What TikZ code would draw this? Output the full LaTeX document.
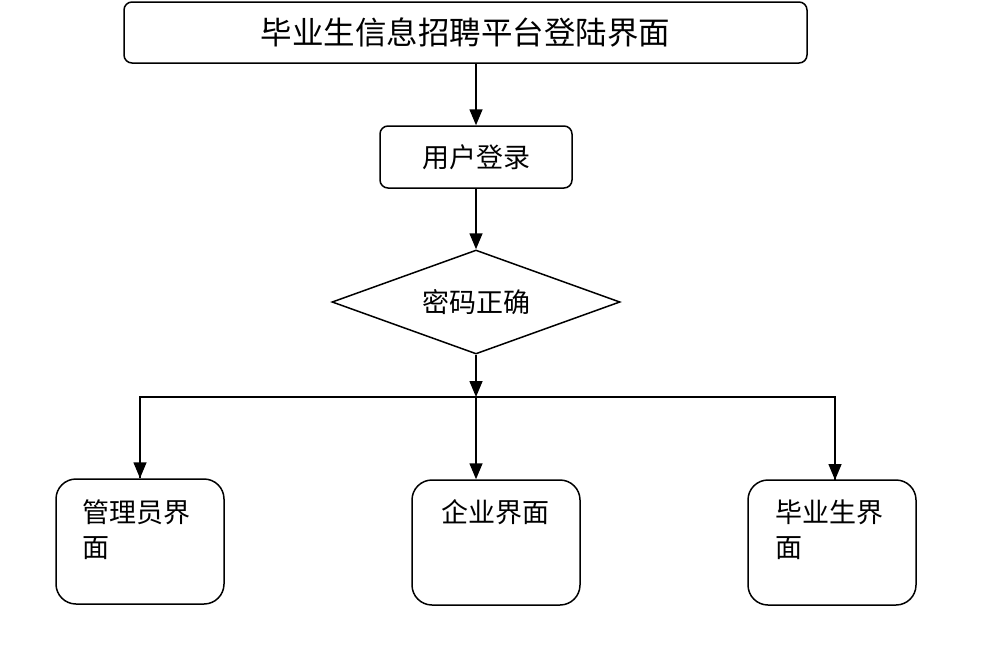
\documentclass[tikz,border=0pt]{standalone}
\usepackage{fontspec}
\newfontfamily\cjk{Noto Sans CJK SC}
\usetikzlibrary{arrows.meta,shapes.geometric,positioning}
\tikzset{
  stepbox/.style={draw, line width=1.5pt, rounded corners=8pt, inner sep=0pt},
  pagebox/.style={draw, line width=1.5pt, rounded corners=20pt, inner sep=0pt,
    minimum width=168pt, minimum height=125pt},
  checkbox/.style={draw, diamond, aspect=2.77, line width=1.5pt, inner sep=0pt,
    minimum width=288pt, minimum height=104pt},
  cjktext/.style={font=\cjk\fontsize{27}{35}\selectfont, inner sep=0pt}
}
\begin{document}
\begin{tikzpicture}[x=1pt,y=-1pt, line width=1.5pt,
    >={Triangle[width=13pt,length=16pt]}]
  \useasboundingbox (0,0) rectangle (981,667);
  % boxes
  \node[stepbox, minimum width=683pt, minimum height=61pt,
    font=\cjk\fontsize{31.5}{36}\selectfont] (title) at (465.5,32.5) {毕业生信息招聘平台登陆界面};
  \node[stepbox, minimum width=192pt, minimum height=62pt, cjktext] (login) at (476,157) {用户登录};
  \node[checkbox, cjktext] (check) at (476,302) {密码正确};
  \node[pagebox] (admin) at (140,541.5) {};
  \node[pagebox] (firm) at (496,542.5) {};
  \node[pagebox] (grad) at (832,542.5) {};
  % texts
  \node[cjktext, align=left, anchor=north west] (admintext) at (82,499) {管理员界\\面};
  \node[cjktext, anchor=north] (firmtext) at (495,499) {企业界面};
  \node[cjktext, align=left, anchor=north west] (gradtext) at (775,499) {毕业生界\\面};
  % arrows
  \draw[->] (login.north |- title.south) -- (login.north);
  \draw[->] (login.south) -- (check.north);
  \coordinate (split) at (check.south |- 0,397);
  \draw[->] (check.south) -- (split);
  \draw (admin.north -| 140,0) |- (split) -| (835,480);
  \draw[->] (140,397) -- (admin.north);
  \draw[->] (split) -- (split |- firm.north);
  \draw[->] (835,397) -- (835,480);
\end{tikzpicture}
\end{document}
